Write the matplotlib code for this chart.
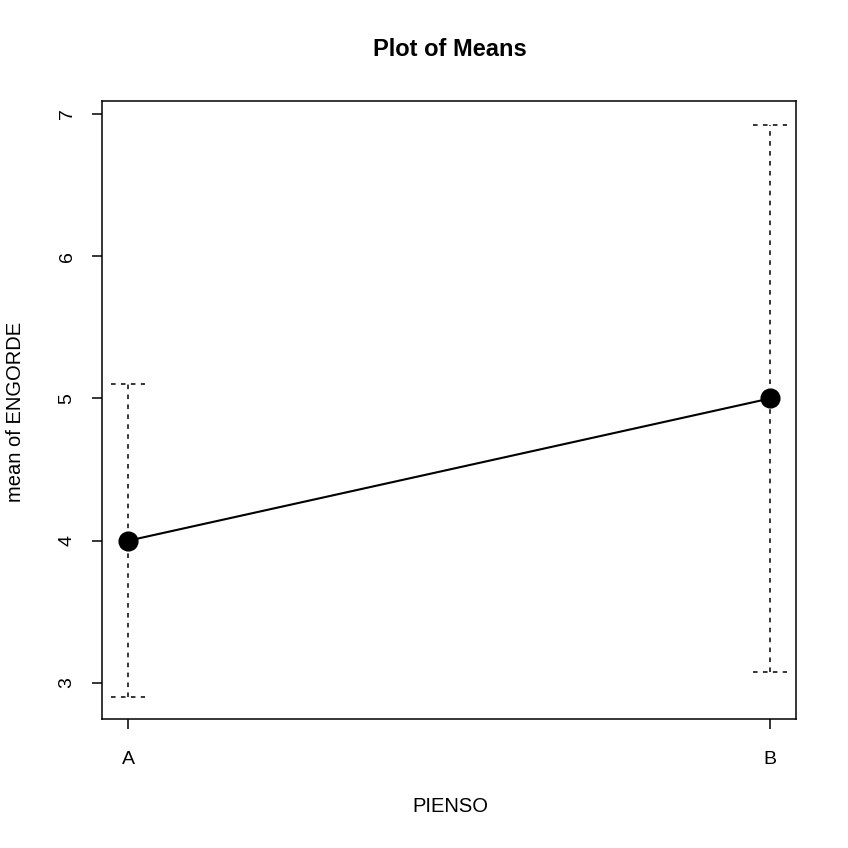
import matplotlib
matplotlib.use("Agg")
import matplotlib.pyplot as plt
import numpy as np

plt.rcParams['font.family'] = ['Liberation Sans', 'DejaVu Sans']

categories = ["A", "B"]
means = [4.0, 5.0]
upper = [5.10, 6.92]
lower = [2.90, 3.08]
yticks = [3, 4, 5, 6, 7]

fig = plt.figure(figsize=(8.48, 8.48), dpi=100)
ax = fig.add_axes([102/848, 1 - 719/848, (796 - 102)/848, (719 - 101)/848])

x = np.arange(1, len(categories) + 1)
cap = 0.026
dash = (0, (3, 3.5))
for xi, lo, hi in zip(x, lower, upper):
    ax.plot([xi, xi], [lo, hi], color='black', lw=1.1, ls=dash)
    ax.plot([xi - cap, xi + cap], [lo, lo], color='black', lw=1.1, ls=dash)
    ax.plot([xi - cap, xi + cap], [hi, hi], color='black', lw=1.1, ls=dash)

ax.plot(x, means, color='black', lw=1.5, marker='o', markersize=13.5)

ax.set_xlim(1 - 0.0405, 2 + 0.0405)
ax.set_ylim(2.747, 7.091)
ax.set_xticks(x)
ax.set_xticklabels(categories)
ax.set_yticks(yticks)
ax.set_yticklabels([str(t) for t in yticks], rotation=90, va='center')
ax.tick_params(direction='out', length=7, width=1.1, labelsize=14, pad=12)
ax.tick_params(axis='x', pad=16)
for s in ax.spines.values():
    s.set_linewidth(1.1)

fig.text(450/848, 1 - 807/848, "PIENSO", ha='center', va='center', fontsize=14.5)
fig.text(16/848, 1 - 412/848, "mean of ENGORDE", ha='center', va='center',
         rotation=90, fontsize=14.5)
fig.text(450/848, 1 - 50/848, "Plot of Means", ha='center', va='center',
         fontsize=17, fontweight='bold')

fig.savefig("out.png", dpi=100)
